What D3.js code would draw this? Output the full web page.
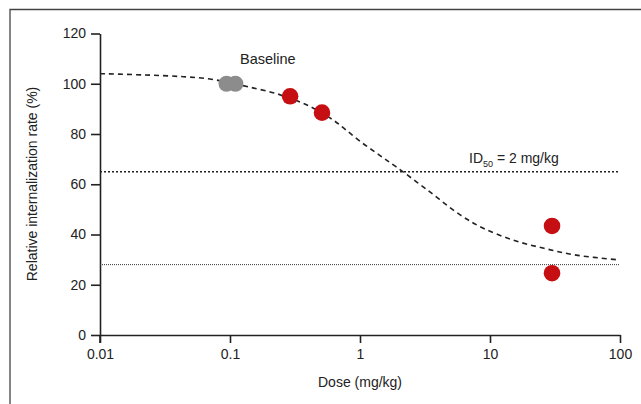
<!DOCTYPE html>
<html><head><meta charset="utf-8">
<script src="https://cdn.jsdelivr.net/npm/d3@7"></script>
<style>body{margin:0;background:#fff;} svg{display:block;font-family:"Liberation Sans",Arial,sans-serif;}</style>
</head><body>
<script>
const baselineDose = [0.094, 0.11];
const baselineRate = [100, 100];
const treatedDose = [0.29, 0.51, 30, 30];
const treatedRate = [95, 88.5, 43.4, 24.6];
const curveDose = [0.01, 0.022, 0.044, 0.07, 0.1, 0.14, 0.23, 0.4, 0.62, 0.78, 1.05, 1.41, 1.89, 3.3, 5.9, 8.8, 15, 26, 46, 97];
const curveRate = [104, 103.5, 102.8, 101.9, 100.4, 98.7, 96, 91.3, 85.6, 81.6, 76.3, 71.6, 67, 57.7, 47.8, 42.6, 37.8, 34.5, 31.8, 29.9];
const refLines = [65, 28];
const xTicks = [0.01, 0.1, 1, 10, 100];
const yTicks = [0, 20, 40, 60, 80, 100, 120];

const W = 641, H = 404;
const svg = d3.select("body").append("svg").attr("width", W).attr("height", H);

// frame
svg.append("path").attr("d", "M10,404 L10,9.5 L641,9.5").attr("fill","none").attr("stroke","#444").attr("stroke-width",1.3);

const x = d3.scaleLog().domain([0.01, 100]).range([100, 620]);
const y = d3.scaleLinear().domain([0, 120]).range([335, 33.5]);

const ink = "#222";
// axes
const xAxis = svg.append("g").attr("transform","translate(0,335)")
  .call(d3.axisBottom(x).tickValues(xTicks).tickFormat(d => String(d)).tickSize(8).tickPadding(6).tickSizeOuter(0));
const yAxis = svg.append("g").attr("transform","translate(100,0)")
  .call(d3.axisLeft(y).tickValues(yTicks).tickSize(9).tickPadding(5).tickSizeOuter(0));
[xAxis, yAxis].forEach(g => {
  g.select(".domain").attr("stroke", ink).attr("stroke-width", 1.6);
  g.selectAll(".tick line").attr("stroke", ink).attr("stroke-width", 1.6);
  g.selectAll(".tick text").attr("fill", ink).attr("font-size", 14).attr("font-family","Liberation Sans, Arial, sans-serif");
});
// extend y axis down to tick length
svg.append("line").attr("x1",100).attr("x2",100).attr("y1",335).attr("y2",343).attr("stroke",ink).attr("stroke-width",1.6);

// reference lines
svg.append("line").attr("x1", x(0.01)).attr("x2", 618).attr("y1", y(refLines[0])).attr("y2", y(refLines[0]))
  .attr("stroke","#222").attr("stroke-width",1.4).attr("stroke-dasharray","2,2");
svg.append("line").attr("x1", x(0.01)).attr("x2", 620).attr("y1", y(refLines[1])).attr("y2", y(refLines[1]))
  .attr("stroke","#333").attr("stroke-width",1).attr("stroke-dasharray","1,1");

// fitted curve
const line = d3.line().x((d,i)=>x(curveDose[i])).y((d,i)=>y(curveRate[i])).curve(d3.curveCatmullRom.alpha(0.5));
svg.append("path").datum(curveRate).attr("d", line).attr("fill","none")
  .attr("stroke","#222").attr("stroke-width",1.6).attr("stroke-dasharray","5,4");

// points
svg.selectAll("circle.base").data(baselineDose).enter().append("circle")
  .attr("cx",(d)=>x(d)).attr("cy",(d,i)=>y(baselineRate[i])).attr("r",8).attr("fill","#8c8c8c");
svg.selectAll("circle.trt").data(treatedDose).enter().append("circle")
  .attr("cx",(d)=>x(d)).attr("cy",(d,i)=>y(treatedRate[i])).attr("r",8.3).attr("fill","#c50f12");

// texts
svg.append("text").attr("x",240).attr("y",64).attr("font-size",14.5).attr("fill",ink).text("Baseline");
const t = svg.append("text").attr("x",469).attr("y",163).attr("font-size",14).attr("fill",ink);
t.append("tspan").text("ID");
t.append("tspan").attr("font-size",9).attr("dy",4).text("50");
t.append("tspan").attr("dy",-4).text(" = 2 mg/kg");

svg.append("text").attr("x",360).attr("y",387).attr("text-anchor","middle").attr("font-size",14).attr("fill",ink).text("Dose (mg/kg)");
svg.append("text").attr("transform","translate(37,184) rotate(-90)").attr("text-anchor","middle").attr("font-size",14).attr("fill",ink)
  .text("Relative internalization rate (%)");
</script>
</body></html>
